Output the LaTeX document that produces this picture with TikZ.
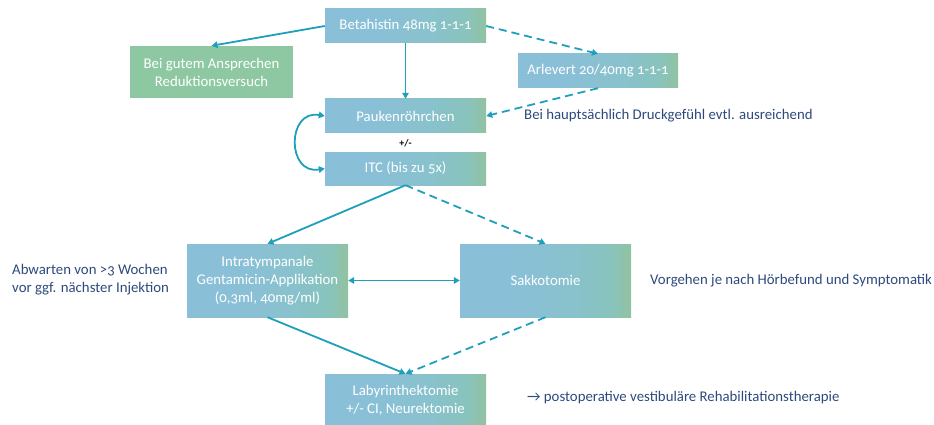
\documentclass[tikz,border=0pt]{standalone}
\usepackage{fontspec}
\setmainfont{Carlito}[Numbers=OldStyle]
\usetikzlibrary{arrows.meta}
\definecolor{arrowc}{HTML}{1E9FBA}
\definecolor{darktxt}{HTML}{2C4A7C}
\definecolor{greenbox}{HTML}{8DC8A2}
\pgfdeclarehorizontalshading{boxgrad}{100bp}{
  rgb(0bp)=(0.54,0.75,0.85);
  rgb(25bp)=(0.54,0.75,0.85);
  rgb(42bp)=(0.54,0.752,0.84);
  rgb(58bp)=(0.535,0.76,0.80);
  rgb(69bp)=(0.535,0.765,0.74);
  rgb(75bp)=(0.57,0.76,0.63);
  rgb(100bp)=(0.57,0.76,0.63)}
\tikzset{
  gbox/.style={rectangle, shading=boxgrad, text=white, align=center, inner sep=0pt, font=\fontsize{14.8}{18}\selectfont},
  plainbox/.style={rectangle, fill=greenbox, text=white, align=center, inner sep=0pt, font=\fontsize{14.8}{18}\selectfont},
  note/.style={text=darktxt, inner sep=0pt, font=\fontsize{14.8}{18}\selectfont},
  conn/.style={draw=arrowc, line width=1.8pt, -{Triangle[length=6pt,width=6.5pt]}},
  dconn/.style={conn, dash pattern=on 8pt off 5pt},
  dbl/.style={draw=arrowc, line width=1.8pt, {Triangle[length=6pt,width=6.5pt]}-{Triangle[length=6pt,width=6.5pt]}},
}
\begin{document}
\begin{tikzpicture}[x=1pt,y=-1pt]
\useasboundingbox (0,0) rectangle (934,425);
\node[gbox, minimum width=161pt, minimum height=34pt] (beta) at (405.5,26) {Betahistin 48mg 1-1-1};
\node[plainbox, minimum width=163pt, minimum height=52pt] (gut) at (211.5,72) {Bei gutem Ansprechen\\Reduktionsversuch};
\node[gbox, minimum width=160pt, minimum height=34pt] (arl) at (598,71) {Arlevert 20/40mg 1-1-1};
\node[gbox, minimum width=161pt, minimum height=34pt] (pauk) at (405.5,116) {Paukenröhrchen};
\node[text=black, inner sep=0pt, font=\fontsize{10}{11}\selectfont\bfseries] (pm) at (405.5,143) {+/-};
\node[gbox, minimum width=161pt, minimum height=33pt] (itc) at (405.5,168.5) {ITC (bis zu 5x)};
\node[gbox, minimum width=161pt, minimum height=73pt] (genta) at (267.5,280.5) {Intratympanale\\Gentamicin-Applikation\\(0,3ml, 40mg/ml)};
\node[gbox, minimum width=171pt, minimum height=73pt] (sakko) at (545.5,280.5) {Sakkotomie};
\node[gbox, minimum width=161pt, minimum height=52pt] (laby) at (405.5,400) {Labyrinthektomie\\+/- CI, Neurektomie};
\node[note, anchor=west] (druck) at (524,115.5) {Bei hauptsächlich Druckgefühl evtl. ausreichend};
\node[note, anchor=west, align=left] (abw) at (12,280) {Abwarten von >3 Wochen\\vor ggf. nächster Injektion};
\node[note, anchor=west] (vorg) at (650,281) {Vorgehen je nach Hörbefund und Symptomatik};
\node[note, anchor=west] (reha) at (527,398) {\char"2192{} postoperative vestibuläre Rehabilitationstherapie};
\draw[conn] (beta.west) -- (gut.north);
\draw[conn] (beta.south) -- (pauk.north);
\draw[dconn] (beta.east) -- (arl.north);
\draw[dconn] (arl.south) -- (pauk.east);
\draw[dbl] (pauk.west) to[out=170, in=190, looseness=1.9] (itc.west);
\draw[conn] (itc.south) -- (genta.north);
\draw[dconn] (itc.south) -- (sakko.north);
\draw[dbl] (genta.east) -- (sakko.west);
\draw[conn] (genta.south) -- (laby.north);
\draw[dconn] (sakko.south) -- (laby.north);
\end{tikzpicture}
\end{document}
